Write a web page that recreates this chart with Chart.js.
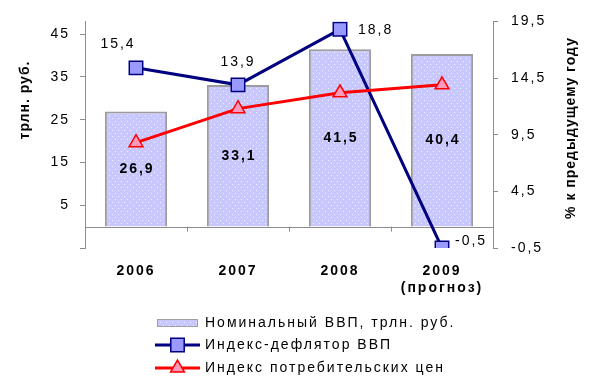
<!DOCTYPE html>
<html>
<head>
<meta charset="utf-8">
<script src="https://cdn.jsdelivr.net/npm/chart.js@4.4.0/dist/chart.umd.min.js"></script>
<style>
  html, body { margin: 0; padding: 0; background: #fff; }
  #chart { display: block; }
</style>
</head>
<body>
<canvas id="chart" width="593" height="389"></canvas>
<script>
// data
var years = [['2006'], ['2007'], ['2008'], ['2009', '(прогноз)']];
var gdp = [26.9, 33.1, 41.5, 40.4];          // трлн. руб.
var deflator = [15.4, 13.9, 18.8, -0.5];     // %
var cpi = [8.8, 11.8, 13.2, 13.9];           // %
var leftTicks = [-5, 5, 15, 25, 35, 45];
var rightTicks = [-0.5, 4.5, 9.5, 14.5, 19.5];

var legendNames = ['Номинальный ВВП, трлн. руб.', 'Индекс-дефлятор ВВП', 'Индекс потребительских цен'];

var FONT = '"Liberation Sans", Arial, sans-serif';

function fmt(v) {
	return v.toFixed(1).replace('.', ',');
}

// dotted lavender fill like the excel bars
function barPattern() {
	var c = document.createElement('canvas');
	c.width = 6; c.height = 6;
	var p = c.getContext('2d');
	p.fillStyle = '#c8c8ff';
	p.fillRect(0, 0, 6, 6);
	p.fillStyle = '#f2f2ff';
	p.fillRect(1, 1, 1, 1);
	p.fillRect(4, 4, 1, 1);
	return p.createPattern(c, 'repeat');
}

var ctx = document.getElementById('chart').getContext('2d');
var pattern = barPattern();

// offsets for the deflator value labels [dx, dy, align]
var deflLabelPos = [[-18, -24, 'center'], [0, -23, 'center'], [18, 1, 'left'], [13, -7, 'left']];

var extras = {
	id: 'extras',
	beforeDraw: function (chart) {
		chart.ctx.letterSpacing = '2px';
	},
	beforeDatasetsDraw: function (chart) {
		var c = chart.ctx, a = chart.chartArea;
		var y0 = chart.scales.y.getPixelForValue(0);
		c.save();
		c.strokeStyle = '#8c8c8c';
		c.lineWidth = 1;
		c.beginPath();
		c.moveTo(a.left, Math.round(y0) + 0.5);
		c.lineTo(a.right, Math.round(y0) + 0.5);
		var step = (a.right - a.left) / years.length;
		for (var i = 1; i < years.length; i++) {
			var bx = Math.round(a.left + step * i) + 0.5;
			c.moveTo(bx, y0);
			c.lineTo(bx, y0 + 5);
		}
		c.stroke();
		c.restore();
	},
	afterDatasetsDraw: function (chart) {
		var c = chart.ctx;
		c.save();
		c.letterSpacing = '2px';
		c.fillStyle = '#000';
		c.textBaseline = 'middle';

		// bar values in the middle of the bars
		c.font = 'bold 14px ' + FONT;
		c.textAlign = 'center';
		chart.getDatasetMeta(0).data.forEach(function (bar, i) {
			c.fillText(fmt(gdp[i]), bar.x + 1, (bar.y + bar.base) / 2);
		});

		// deflator values
		c.font = '14px ' + FONT;
		chart.getDatasetMeta(1).data.forEach(function (pt, i) {
			var p = deflLabelPos[i];
			c.textAlign = p[2];
			c.fillText(fmt(deflator[i]), pt.x + p[0], pt.y + p[1]);
		});
		c.restore();
	},
	afterDraw: function (chart) {
		var c = chart.ctx;
		c.save();
		c.fillStyle = '#000';
		c.font = 'bold 14px ' + FONT;
		c.textAlign = 'center';
		c.textBaseline = 'middle';

		// axis titles
		c.letterSpacing = '1px';
		c.save();
		c.translate(25, 100);
		c.rotate(-Math.PI / 2);
		c.fillText('трлн. руб.', 0, 0);
		c.restore();
		c.save();
		c.translate(571, 128);
		c.rotate(-Math.PI / 2);
		c.fillText('% к предыдущему году', 0, 0);
		c.restore();

		// legend
		var lx = 157, lw = 41, tx = 205, rows = [323, 345, 368];
		c.fillStyle = pattern;
		c.fillRect(lx, rows[0] - 4, lw, 8);
		c.strokeStyle = '#a0a0a0';
		c.lineWidth = 1;
		c.strokeRect(lx + 0.5, rows[0] - 3.5, lw - 1, 7);

		var ds = chart.data.datasets;
		[1, 2].forEach(function (k, j) {
			var y = rows[j + 1];
			c.strokeStyle = ds[k].borderColor;
			c.lineWidth = 3;
			c.beginPath();
			c.moveTo(lx - 2, y);
			c.lineTo(lx + lw + 2, y);
			c.stroke();
			c.fillStyle = ds[k].pointBackgroundColor;
			c.strokeStyle = ds[k].pointBorderColor;
			c.lineWidth = ds[k].pointBorderWidth;
			Chart.helpers.drawPoint(c, {
				pointStyle: ds[k].pointStyle,
				radius: ds[k].pointRadius,
				borderWidth: ds[k].pointBorderWidth,
				rotation: 0
			}, lx + lw / 2, y);
		});

		c.letterSpacing = '2px';
		c.font = '14px ' + FONT;
		c.textAlign = 'left';
		c.fillStyle = '#000';
		legendNames.forEach(function (name, i) {
			c.fillText(name, tx, rows[i]);
		});
		c.restore();
	}
};

var chart = new Chart(ctx, {
	type: 'bar',
	data: {
		labels: years,
		datasets: [{
			type: 'bar',
			label: legendNames[0],
			data: gdp,
			yAxisID: 'y',
			backgroundColor: pattern,
			borderColor: '#9c9c9c',
			borderWidth: 2,
			barPercentage: 0.61,
			categoryPercentage: 1,
			order: 3
		}, {
			type: 'line',
			label: legendNames[1],
			data: deflator,
			yAxisID: 'y1',
			borderColor: '#000080',
			borderWidth: 3,
			backgroundColor: '#9999ff',
			pointStyle: 'rect',
			pointRadius: 9.5,
			pointBorderWidth: 1.5,
			pointBackgroundColor: '#9999ff',
			pointBorderColor: '#000080',
			tension: 0,
			order: 2
		}, {
			type: 'line',
			label: legendNames[2],
			data: cpi,
			yAxisID: 'y1',
			borderColor: '#ff0000',
			borderWidth: 3,
			backgroundColor: '#ff99bb',
			pointStyle: 'triangle',
			pointRadius: 8,
			pointBorderWidth: 1.5,
			pointBackgroundColor: '#ff99bb',
			pointBorderColor: '#ff0000',
			tension: 0,
			order: 1
		}]
	},
	options: {
		responsive: false,
		animation: false,
		devicePixelRatio: 1,
		layout: { padding: { top: 21, left: 0, right: 0, bottom: 0 } },
		plugins: {
			legend: { display: false },
			tooltip: { enabled: false }
		},
		scales: {
			x: {
				offset: true,
				grid: { display: false, drawTicks: false },
				border: { display: false },
				ticks: {
					color: '#000',
					padding: 14,
					font: { family: FONT, size: 14, weight: 'bold', lineHeight: 1.25 }
				},
				afterFit: function (s) { s.height = 141; }
			},
			y: {
				position: 'left',
				min: -5,
				max: 48,
				afterBuildTicks: function (s) {
					s.ticks = leftTicks.map(function (v) { return { value: v }; });
				},
				grid: { display: true, drawOnChartArea: false, drawTicks: true, tickLength: 5, color: '#8c8c8c' },
				border: { display: true, color: '#8c8c8c' },
				ticks: {
					color: '#000',
					padding: 10,
					font: { family: FONT, size: 14 },
					callback: function (v) { return v < 0 ? '' : String(v); }
				},
				afterFit: function (s) { s.width = 85; }
			},
			y1: {
				position: 'right',
				min: -0.5,
				max: 19.5,
				afterBuildTicks: function (s) {
					s.ticks = rightTicks.map(function (v) { return { value: v }; });
				},
				grid: { display: true, drawOnChartArea: false, drawTicks: true, tickLength: 5, color: '#8c8c8c' },
				border: { display: true, color: '#8c8c8c' },
				ticks: {
					color: '#000',
					padding: 13,
					font: { family: FONT, size: 14 },
					callback: function (v) { return fmt(v); }
				},
				afterFit: function (s) { s.width = 100; }
			}
		}
	},
	plugins: [extras]
});
</script>
</body>
</html>
